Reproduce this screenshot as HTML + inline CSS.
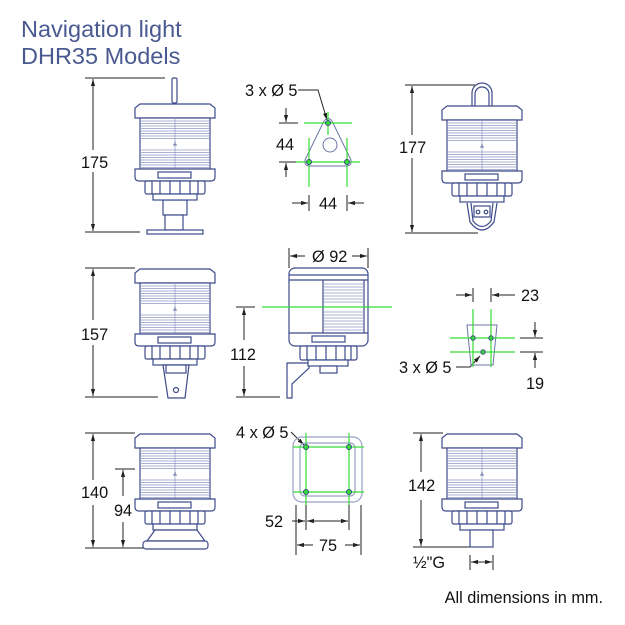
<!DOCTYPE html>
<html><head><meta charset="utf-8"><style>
html,body{margin:0;padding:0;background:#fff;}
svg{display:block;}
text{font-family:"Liberation Sans",sans-serif;fill:#111;}
</style></head><body>
<svg width="625" height="625" viewBox="0 0 625 625" xmlns="http://www.w3.org/2000/svg">
<defs>
<marker id="ar" viewBox="0 0 10 10" refX="10" refY="5" markerWidth="7" markerHeight="7" orient="auto-start-reverse"><path d="M0,2 L10,5 L0,8 Z" fill="#222"/></marker>
<g id="lamp" fill="#fff" stroke="#3d4b8a" stroke-width="1.2">
 <path d="M-35,1 L35,1 L40,5 L40,15 L-40,15 L-40,5 Z"/>
 <rect x="-35" y="15" width="70" height="51"/>
 <g stroke="#8f98c4" stroke-width="0.7">
  <path d="M-35,18H35M-35,20.5H35M-35,23H35M-35,25.5H35M-35,28H35M-35,30.5H35M-35,33H35M-35,35.5H35"/>
  <path d="M-35,47H35M-35,49.5H35M-35,52H35M-35,54.5H35M-35,57H35M-35,59.5H35M-35,62H35M-35,64.5H35"/>
  <path d="M0,15V66"/>
 </g>
 <path d="M-2,42h4M0,39v3" stroke-width="0.8"/>
 <path d="M-40,66 H40 V74 Q40,78 36,78 H-36 Q-40,78 -40,74 Z"/>
 <rect x="-17" y="69" width="33" height="6"/>
 <rect x="-30" y="78" width="60" height="13" rx="2"/>
 <path d="M-23,78V91M-15,78V91M-5,78V91M5,78V91M15,78V91M23,78V91"/>
 <rect x="-22" y="91" width="44" height="6"/>
</g>
</defs>

<text x="21" y="37" font-size="23.5" style="fill:#4a5a90">Navigation light</text>
<text x="21" y="64" font-size="23.5" style="fill:#4a5a90">DHR35 Models</text>

<g stroke="#222" stroke-width="1" fill="none">
 <path d="M85,78H165M85,232H140"/>
 <path d="M93,150V79" marker-end="url(#ar)"/><path d="M93,172V231" marker-end="url(#ar)"/>
 <path d="M405,85H475M405,233H478"/>
 <path d="M412,135V86" marker-end="url(#ar)"/><path d="M412,158V232" marker-end="url(#ar)"/>
 <path d="M85,268H135M85,397H158"/>
 <path d="M93,320V269" marker-end="url(#ar)"/><path d="M93,345V396" marker-end="url(#ar)"/>
 <path d="M236,307H255M236,397H280"/>
 <path d="M244,340V308" marker-end="url(#ar)"/><path d="M244,366V396" marker-end="url(#ar)"/>
 <path d="M289,248V268M368,248V268"/>
 <path d="M305,256H290" marker-end="url(#ar)"/><path d="M352,256H367" marker-end="url(#ar)"/>
 <path d="M85,433H135M85,548H165M115,469H135"/>
 <path d="M93,480V434" marker-end="url(#ar)"/><path d="M93,505V547" marker-end="url(#ar)"/>
 <path d="M123,496V470" marker-end="url(#ar)"/><path d="M123,522V547" marker-end="url(#ar)"/>
 <path d="M413,433H443M413,547H470"/>
 <path d="M421,472V434" marker-end="url(#ar)"/><path d="M421,500V546" marker-end="url(#ar)"/>
 <path d="M470,555V570M493,555V570"/>
 <path d="M482,562H471" marker-end="url(#ar)"/><path d="M482,562H492" marker-end="url(#ar)"/>
 <path d="M279,123H298M279,162H298"/>
 <path d="M286,108V122" marker-end="url(#ar)"/><path d="M286,177V163" marker-end="url(#ar)"/>
 <path d="M309,195V211M347,195V211"/>
 <path d="M292,203H308" marker-end="url(#ar)"/><path d="M364,203H348" marker-end="url(#ar)"/>
 <path d="M298,90H318L327,120" marker-end="url(#ar)"/>
 <path d="M473,288V302M491,288V302"/>
 <path d="M456,295H472" marker-end="url(#ar)"/><path d="M515,295H492" marker-end="url(#ar)"/>
 <path d="M520,338H543M520,352H543"/>
 <path d="M535,322V337" marker-end="url(#ar)"/><path d="M535,368V353" marker-end="url(#ar)"/>
 <path d="M456,367H470L480,356" marker-end="url(#ar)"/>
 <path d="M291,432L304,445" marker-end="url(#ar)"/>
 <path d="M306,505V530M349,505V530M296,505V555M361,505V555"/>
 <path d="M292,521H305" marker-end="url(#ar)"/><path d="M320,521H348" marker-end="url(#ar)"/><path d="M330,521H307" marker-end="url(#ar)"/>
 <path d="M313,545H297" marker-end="url(#ar)"/><path d="M345,545H360" marker-end="url(#ar)"/>
</g>

<g fill="#fff" stroke="#3d4b8a" stroke-width="1.2">
 <rect x="172" y="78" width="5" height="25" rx="1.5"/>
 <rect x="163" y="200" width="24" height="15"/>
 <rect x="165" y="215" width="18" height="15"/>
 <rect x="147" y="230" width="56" height="4"/>
</g>
<use href="#lamp" x="175" y="103"/>

<g fill="none" stroke="#3d4b8a" stroke-width="1.2">
 <path d="M472,106V93A10,10 0 0 1 492,93V106"/>
 <path d="M475,106V94A7,7 0 0 1 489,94V106"/>
 <path d="M467,203L470,222Q482,238 494,222L497,203"/>
 <path d="M471,203L473,221Q482,232 491,221L493,203"/>
 <rect x="474" y="206" width="16" height="11" fill="#fff"/>
 <circle cx="478" cy="212" r="1.8"/><circle cx="486" cy="212" r="1.8"/>
</g>
<use href="#lamp" x="482" y="105"/>

<use href="#lamp" x="175" y="268"/>
<g fill="#fff" stroke="#3d4b8a" stroke-width="1.2">
 <path d="M163,365H189L185,398H168Z"/>
 <rect x="166" y="365" width="20" height="8"/>
 <circle cx="176" cy="390" r="2.5"/>
</g>

<g fill="#fff" stroke="#3d4b8a" stroke-width="1.2">
 <path d="M287,363V398H292V384L309,368V363Z"/>
 <rect x="289" y="268" width="79" height="78" rx="6"/>
 <path d="M289,275H368M289,280H368M323,280V333M364,280V333M289,333H368"/>
 <g stroke="#8f98c4" stroke-width="0.7"><path d="M324,284H364M324,287H364M324,290H364M324,293H364M324,296H364M324,299H364M324,302H364M324,312H364M324,315H364M324,318H364M324,321H364M324,324H364M324,327H364M324,330H364"/></g>
 <rect x="312" y="336" width="33" height="6"/>
 <rect x="300" y="346" width="57" height="14" rx="2"/>
 <path d="M307,346V360M316,346V360M326,346V360M336,346V360M345,346V360M351,346V360"/>
 <rect x="308" y="360" width="40" height="6"/>
 <rect x="320" y="366" width="17" height="7"/>
</g>

<use href="#lamp" x="175" y="433"/>
<g fill="#fff" stroke="#3d4b8a" stroke-width="1.2">
 <path d="M155,530L147,541H205L197,530Z"/>
 <rect x="143" y="541" width="65" height="8" rx="3"/>
</g>

<use href="#lamp" x="482" y="433"/>
<rect x="470" y="530" width="23" height="17" fill="#fff" stroke="#3d4b8a" stroke-width="1.2"/>

<g fill="none" stroke="#6b73a6" stroke-width="1">
 <path d="M324,121Q328,116 332,121L351,160Q352,166 346,166H310Q304,166 305,160Z"/>
 <circle cx="330" cy="145" r="7"/>
</g>
<g stroke="#33dd33" stroke-width="1.2">
 <path d="M304,123H352M296,162H360M309,138V187M347,138V187M328,112V135"/>
</g>
<g fill="#33dd33" stroke="#3d4b8a" stroke-width="1"><circle cx="328" cy="123" r="2.5"/><circle cx="309" cy="162" r="2.5"/><circle cx="347" cy="162" r="2.5"/></g>

<path d="M262,307H392" stroke="#33dd33" stroke-width="1.2"/>

<path d="M467,325H497L493,365H471Z" fill="none" stroke="#6b73a6" stroke-width="1"/>
<g stroke="#33dd33" stroke-width="1.2"><path d="M473,309V367M491,309V367M450,338H515M450,352H515"/></g>
<g fill="#33dd33" stroke="#3d4b8a" stroke-width="1"><circle cx="473" cy="338" r="2.2"/><circle cx="491" cy="338" r="2.2"/><circle cx="483" cy="352" r="2.2"/></g>

<g fill="none" stroke="#9aa0c6" stroke-width="1.2">
 <rect x="293" y="437" width="69" height="65" rx="9"/>
 <rect x="300" y="443" width="55" height="53" rx="5"/>
</g>
<g stroke="#33dd33" stroke-width="1.2"><path d="M293,447H364M293,492H364M306,433V505M349,433V505"/></g>
<g fill="#33dd33" stroke="#3d4b8a" stroke-width="1"><circle cx="306" cy="447" r="2.5"/><circle cx="349" cy="447" r="2.5"/><circle cx="306" cy="492" r="2.5"/><circle cx="349" cy="492" r="2.5"/></g>

<g font-size="16.3">
 <text x="81" y="168">175</text>
 <text x="399" y="153">177</text>
 <text x="81" y="340">157</text>
 <text x="230" y="360">112</text>
 <text x="81" y="498">140</text>
 <text x="114" y="516">94</text>
 <text x="408" y="491">142</text>
 <text x="413" y="568">½"G</text>
 <text x="245" y="96">3 x Ø 5</text>
 <text x="276" y="150">44</text>
 <text x="319" y="209">44</text>
 <text x="312" y="262">Ø 92</text>
 <text x="521" y="301">23</text>
 <text x="526" y="389">19</text>
 <text x="399" y="373">3 x Ø 5</text>
 <text x="236" y="438">4 x Ø 5</text>
 <text x="265" y="527">52</text>
 <text x="319" y="551">75</text>
 <text x="603" y="603" font-size="16.3" text-anchor="end">All dimensions in mm.</text>
</g>
</svg>
</body></html>
